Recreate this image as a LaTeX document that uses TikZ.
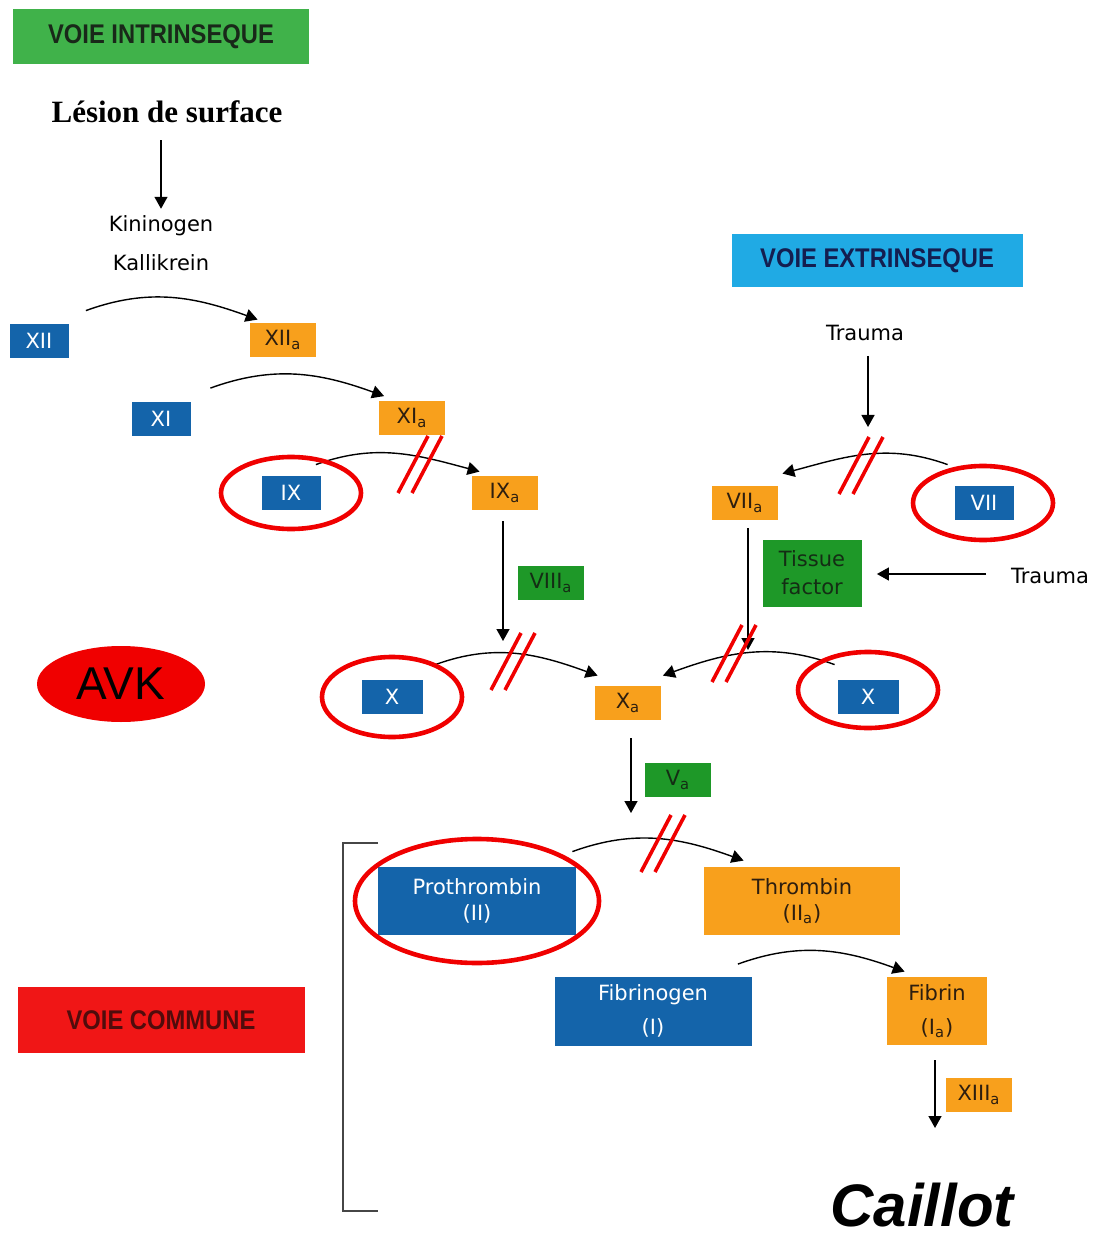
\documentclass[tikz,border=0pt]{standalone}
\usepackage{fontspec}
\setsansfont{DejaVu Sans}
\newfontfamily\headfont[FakeStretch=0.88]{Liberation Sans}
\newfontfamily\lesionfont{Liberation Serif}
\newfontfamily\avkfont{Liberation Sans}
\usetikzlibrary{arrows.meta,shapes.geometric}

\definecolor{facblue}{RGB}{20,100,170}
\definecolor{actorange}{RGB}{248,160,28}
\definecolor{actdark}{RGB}{45,30,15}
\definecolor{cofgreen}{RGB}{30,152,40}
\definecolor{cofdark}{RGB}{20,45,20}
\definecolor{intrgreen}{RGB}{64,178,74}
\definecolor{intrtext}{RGB}{25,40,25}
\definecolor{extrcyan}{RGB}{32,170,228}
\definecolor{extrtext}{RGB}{20,30,80}
\definecolor{comred}{RGB}{240,22,22}
\definecolor{comtext}{RGB}{80,12,12}
\definecolor{avkred}{RGB}{240,0,0}
\definecolor{bracketgray}{RGB}{70,70,70}

% double trait rouge : voie bloquee par les AVK
\newcommand{\coupure}[2]{%
  \draw[avkcut] ({#1-22},{#2+29}) -- ++(30,-57);
  \draw[avkcut] ({#1-8},{#2+29}) -- ++(30,-57);}

\tikzset{
  factor/.style={fill=facblue,text=white,inner sep=0pt,minimum width=29.5pt,
    minimum height=17pt,font=\sffamily\fontsize{10.5}{13}\selectfont},
  active/.style={factor,fill=actorange,text=actdark,minimum width=33pt},
  cofactor/.style={factor,fill=cofgreen,text=cofdark,minimum width=33pt},
  voie/.style={inner sep=0pt,font=\headfont\bfseries\fontsize{13.5}{15}\selectfont},
  txt/.style={font=\sffamily\fontsize{10.5}{13}\selectfont},
  cascade/.style={-{Triangle[length=6pt,width=6.5pt]},line width=0.7pt},
  ring/.style={draw=avkred,line width=2.3pt},
  avkcut/.style={draw=avkred,line width=1.8pt},
}

\begin{document}
\begin{tikzpicture}[x=0.5pt,y=-0.5pt]
  \useasboundingbox (0,0) rectangle (1104,1240);

  % voie intrinseque
  \node[voie,fill=intrgreen,text=intrtext,minimum width=148pt,minimum height=27.5pt] (intr) at (161,37) {VOIE INTRINSEQUE};
  \node[font=\lesionfont\bfseries\fontsize{15.5}{17}\selectfont] (lesion) at (167,112) {Lésion de surface};
  \node[txt] (kini) at (161,226) {Kininogen};
  \node[txt] (kalli) at (161,263) {Kallikrein};
  \draw[cascade,shorten <=5pt] (lesion.south -| kini) -- (kini.north);

  \node[factor] (XII) at (39,341) {XII};
  \node[active] (XIIa) at (283,340) {XII\textsubscript{a}};
  \node[factor] (XI) at (161,419) {XI};
  \node[active] (XIa) at (412,418) {XI\textsubscript{a}};
  \node[factor] (IX) at (291,493) {IX};
  \node[active] (IXa) at (505,493) {IX\textsubscript{a}};
  \node[cofactor] (VIIIa) at (551,583) {VIII\textsubscript{a}};

  \draw[cascade] ([xshift=8.5pt,yshift=6.5pt]XII.north east) to[out=20,in=160] ([xshift=4pt,yshift=1.5pt]XIIa.north west);
  \draw[cascade] ([xshift=9.75pt,yshift=6.75pt]XI.north east) to[out=20,in=160] ([xshift=2.75pt,yshift=2.25pt]XIa.north west);
  \draw[cascade] ([xshift=-2.5pt,yshift=5.5pt]IX.north east) to[out=20,in=165] ([xshift=4pt,yshift=2pt]IXa.north west);
  \coordinate (ixend) at (503,641);
  \draw[cascade,shorten <=5.5pt] (IXa.south -| ixend) -- (ixend);

  % voie extrinseque
  \node[voie,fill=extrcyan,text=extrtext,minimum width=145.5pt,minimum height=26.5pt] (extr) at (877,261) {VOIE EXTRINSEQUE};
  \node[txt] (traumaT) at (865,333) {Trauma};
  \coordinate (tvii) at (868,427);
  \draw[cascade,shorten <=4pt] (traumaT.south -| tvii) -- (tvii);

  \node[active] (VIIa) at (745,503) {VII\textsubscript{a}};
  \node[factor] (VII) at (984,503) {VII};
  \node[cofactor,minimum width=49.5pt,minimum height=33.5pt,align=center,
    font=\sffamily\fontsize{10.5}{14}\selectfont] (tissue) at (812,573) {Tissue\\factor};
  \node[txt] (traumaR) at (1050,576) {Trauma};
  \draw[cascade,shorten <=9pt,shorten >=7.5pt] ([yshift=1pt]traumaR.west) -- ([yshift=1pt]traumaR.west -| tissue.east);
  \draw[cascade] ([xshift=-3.25pt,yshift=10.5pt]VII.north west) to[out=160,in=15] ([xshift=2pt,yshift=6pt]VIIa.north east);
  \coordinate (viiend) at (748,650);
  \draw[cascade,shorten <=4pt] (VIIa.south -| viiend) -- (viiend);

  % facteur X
  \node[factor,minimum width=30.5pt] (Xl) at (392,697) {X};
  \node[active] (Xa) at (628,703) {X\textsubscript{a}};
  \node[factor,minimum width=30.5pt] (Xr) at (868,697) {X};
  \node[cofactor] (Va) at (678,780) {V\textsubscript{a}};
  \draw[cascade] ([xshift=6.25pt,yshift=7.5pt]Xl.north east) to[out=20,in=160] ([xshift=1.5pt,yshift=5pt]Xa.north west);
  \draw[cascade] ([xshift=-1.25pt,yshift=7.5pt]Xr.north west) to[out=160,in=20] ([xshift=0.75pt,yshift=5pt]Xa.north east);
  \coordinate (xaend) at (631,813);
  \draw[cascade,shorten <=9pt] (Xa.south -| xaend) -- (xaend);

  % voie commune
  \node[factor,minimum width=99pt,minimum height=34pt,align=center] (proth) at (477,901) {Prothrombin\\(II)};
  \node[active,minimum width=98pt,minimum height=34pt,align=center] (thromb) at (802,901) {Thrombin\\(II\textsubscript{a})};
  \node[factor,minimum width=98.5pt,minimum height=34.5pt,align=center] (fibgen) at (653,1011) {Fibrinogen\\[4pt](I)};
  \node[active,minimum width=50pt,minimum height=34pt,align=center] (fibrin) at (937,1011) {Fibrin\\[4pt](I\textsubscript{a})};
  \node[active] (XIIIa) at (979,1095) {XIII\textsubscript{a}};
  \draw[cascade] ([xshift=-2pt,yshift=7.5pt]proth.north east) to[out=20,in=160] ([xshift=20pt,yshift=3pt]thromb.north west);
  \draw[cascade] ([xshift=-7pt,yshift=6pt]fibgen.north east) to[out=20,in=160] ([xshift=9pt,yshift=2.5pt]fibrin.north west);
  \coordinate (caill) at (935,1128);
  \draw[cascade,shorten <=7.5pt] (fibrin.south -| caill) -- (caill);

  \draw[line width=1pt,draw=bracketgray] (378,843) -- (343,843) -- (343,1211) -- (378,1211);
  \node[voie,fill=comred,text=comtext,minimum width=143.5pt,minimum height=33pt] (commune) at (161,1020) {VOIE COMMUNE};

  % AVK
  \node[ellipse,fill=avkred,minimum width=84pt,minimum height=38pt,inner sep=0pt,
    font=\avkfont\fontsize{23}{25}\selectfont] (avk) at (121,684) {AVK};
  \draw[ring] (IX) ellipse [x radius=35pt,y radius=18pt];
  \draw[ring] ([xshift=-0.5pt]VII) ellipse [x radius=35pt,y radius=18.5pt];
  \draw[ring] (Xl) ellipse [x radius=35pt,y radius=20pt];
  \draw[ring] ([yshift=3.5pt]Xr) ellipse [x radius=35pt,y radius=19pt];
  \draw[ring] (proth) ellipse [x radius=61pt,y radius=31pt];
  \coupure{420}{464}
  \coupure{861}{465}
  \coupure{513}{661}
  \coupure{734}{653}
  \coupure{663}{843}

  \node[anchor=base,inner sep=0pt,font=\avkfont\bfseries\itshape\fontsize{30}{32}\selectfont] (caillot) at (922,1226) {Caillot};
\end{tikzpicture}
\end{document}
